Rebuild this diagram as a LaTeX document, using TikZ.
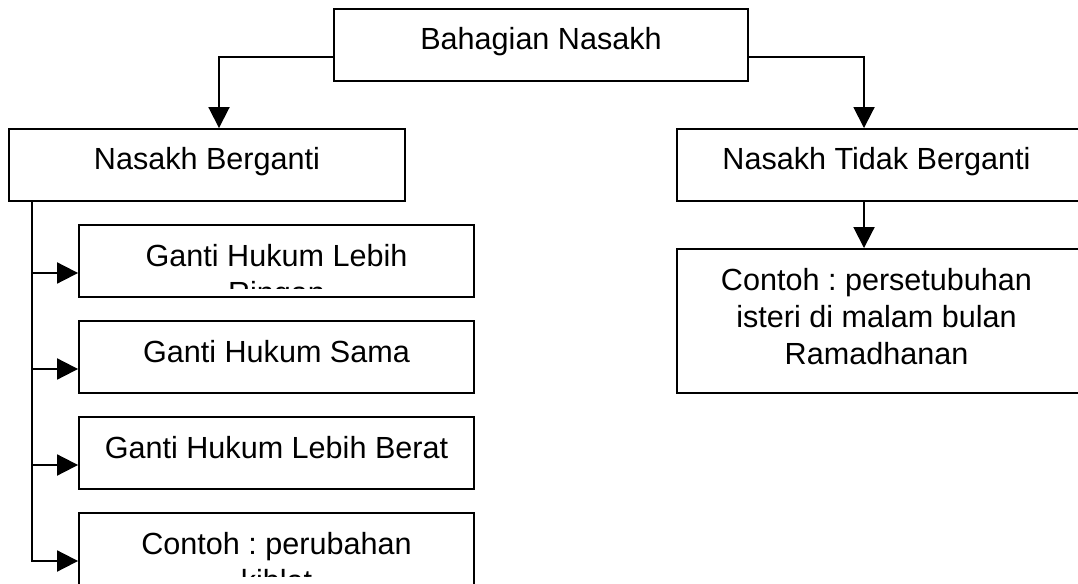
\documentclass[tikz,border=0pt]{standalone}
\usepackage{fontspec}
\setmainfont{Liberation Sans}
\usepackage{tikz}
\usetikzlibrary{arrows.meta}
\frenchspacing
\tikzstyle{box}=[fill=white, draw=black, line width=1.1pt, shape=rectangle, inner sep=0pt]
\tikzstyle{box text}=[anchor=base, align=center, inner sep=0pt, text=black, font=\fontsize{17.4}{21.05}\selectfont]
\tikzstyle{arrow edge}=[draw=black, line width=1.1pt, -{Triangle[length=0.42cm, width=0.42cm]}]
\pgfdeclarelayer{nodelayer}
\pgfdeclarelayer{edgelayer}
\pgfsetlayers{nodelayer,edgelayer}

\begin{document}
\begin{tikzpicture}[x=0.02cm, y=-0.02cm]
	\useasboundingbox (0, 0) rectangle (1078, 584);
	\begin{pgfonlayer}{nodelayer}
		\node [style=box, minimum width=8.28cm, minimum height=1.44cm] (0) at (541, 45) {};
		\node [style=box, minimum width=7.92cm, minimum height=1.44cm] (1) at (207, 165) {};
		\node [style=box, minimum width=8.1cm, minimum height=1.44cm] (2) at (879.5, 165) {};
		\node [style=box, minimum width=8.1cm, minimum height=2.88cm] (3) at (879.5, 321) {};
		\node [style=box, minimum width=7.9cm, minimum height=1.44cm] (4) at (276.5, 261) {};
		\node [style=box, minimum width=7.9cm, minimum height=1.44cm] (5) at (276.5, 357) {};
		\node [style=box, minimum width=7.9cm, minimum height=1.44cm] (6) at (276.5, 453) {};
		\node [style=box, minimum width=7.9cm, minimum height=1.44cm] (7) at (276.5, 549) {};
		% multi-line text sits on the baseline of its last line
		\node [style=box text] (t0) at (541, 50) {Bahagian Nasakh};
		\node [style=box text] (t1) at (207, 170) {Nasakh Berganti};
		\node [style=box text] (t2) at (876.5, 170) {Nasakh Tidak Berganti};
		\node [style=box text] (t3) at (876.5, 364) {Contoh : persetubuhan\\isteri di malam bulan\\Ramadhanan};
		\begin{scope}
			\clip (79, 225) rectangle (474, 288);
			\node [style=box text] (t4) at (276.5, 303) {Ganti Hukum Lebih\\Ringan};
		\end{scope}
		\node [style=box text] (t5) at (276.5, 362) {Ganti Hukum Sama};
		\node [style=box text] (t6) at (276.5, 458) {Ganti Hukum Lebih Berat};
		\begin{scope}
			\clip (79, 513) rectangle (474, 576);
			\node [style=box text] (t7) at (276.5, 591) {Contoh : perubahan\\kiblat};
		\end{scope}
	\end{pgfonlayer}
	\begin{pgfonlayer}{edgelayer}
		\coordinate (trunk) at ([xshift=0.48cm]1.south west);
		\draw [style=arrow edge] ([yshift=-0.24cm]0.west) -| ([xshift=0.24cm]1.north);
		\draw [style=arrow edge] ([yshift=-0.24cm]0.east) -| ([xshift=-0.31cm]2.north);
		\draw [style=arrow edge] ([xshift=-0.31cm]2.south) to ([xshift=-0.31cm]3.north);
		\draw [style=arrow edge] (trunk) |- ([yshift=-0.24cm]4.west);
		\draw [style=arrow edge] (trunk) |- ([yshift=-0.24cm]5.west);
		\draw [style=arrow edge] (trunk) |- ([yshift=-0.24cm]6.west);
		\draw [style=arrow edge] (trunk) |- ([yshift=-0.24cm]7.west);
	\end{pgfonlayer}
\end{tikzpicture}
\end{document}
